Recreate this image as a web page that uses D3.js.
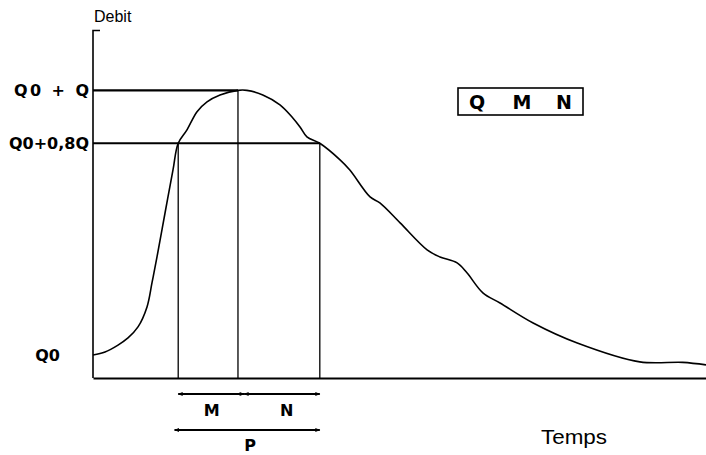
<!DOCTYPE html>
<html>
<head>
<meta charset="utf-8">
<script src="https://cdn.jsdelivr.net/npm/d3@7"></script>
<style>
  html, body { margin: 0; padding: 0; background: #fff; }
  svg { display: block; }
</style>
</head>
<body>
<svg id="chart" width="706" height="455"></svg>
<script>
// Hydrograph: debit over time, with peak level Q0 + Q and the 0.8Q threshold
const Q0 = 1.0;
const Q = 11.5;

// time (arbitrary units) and debit samples of the flood wave
const temps = [0, 1.96, 4.08, 5.71, 7.34, 8.81, 9.62, 10.44, 11.75, 13.05, 13.9,
  15.33, 16.97, 18.6, 20.72, 23.65, 25.1, 27.7, 30.5, 32.6, 33.8, 34.9, 37.0,
  40.3, 41.9, 45.2, 46.8, 50.1, 54.5, 56.6, 59.4, 61.0, 63.6, 66.4, 71.8, 79.0,
  89.2, 96.2, 100];
const debit = [1.0, 1.13, 1.43, 1.74, 2.22, 3.09, 4.13, 5.26, 7.17, 9.04, 10.2,
  10.78, 11.57, 12.0, 12.3, 12.5, 12.5, 12.3, 11.87, 11.3, 10.9, 10.48, 10.2,
  9.48, 9.04, 7.87, 7.61, 6.74, 5.57, 5.26, 5.0, 4.57, 3.7, 3.26, 2.39, 1.52,
  0.70, 0.68, 0.57];

// instants: crossing of Q0 + 0.8Q on the rise, the peak, crossing on the fall
const tMontee = 13.9;
const tPointe = 23.65;
const tDescente = 37.0;

// level labels on the debit axis
const niveaux = [Q0, Q0 + 0.8 * Q, Q0 + Q];
const niveauLabels = ["Q0", "Q0+0,8Q", "Q0 + Q"];
const legendLetters = ["Q", "M", "N"];

const svg = d3.select("#chart");
const x = d3.scaleLinear().domain([0, 100]).range([93, 706]);
const y = d3.scaleLinear().domain([0, 15.1]).range([378, 30.5]);

const bold = "'DejaVu Sans', sans-serif";
const plain = "'Liberation Sans', Arial, sans-serif";

// guide lines: horizontal levels and vertical instants
const levelLine = (v, t) => svg.append("line")
  .attr("x1", x(0)).attr("x2", x(t))
  .attr("y1", y(v)).attr("y2", y(v))
  .attr("stroke", "#000").attr("stroke-width", 2.2);
levelLine(Q0 + Q, tPointe);
levelLine(Q0 + 0.8 * Q, tDescente);

[[tMontee, Q0 + 0.8 * Q], [tPointe, Q0 + Q], [tDescente, Q0 + 0.8 * Q]].forEach(([t, v]) => {
  svg.append("line")
    .attr("x1", x(t)).attr("x2", x(t))
    .attr("y1", y(v)).attr("y2", y(0))
    .attr("stroke", "#000").attr("stroke-width", 1.3);
});

// hydrograph curve
const pts = temps.map((t, i) => [t, debit[i]]);
svg.append("path")
  .datum(pts)
  .attr("fill", "none")
  .attr("stroke", "#000")
  .attr("stroke-width", 1.6)
  .attr("stroke-linejoin", "round")
  .attr("d", d3.line().x(d => x(d[0])).y(d => y(d[1])).curve(d3.curveCatmullRom.alpha(0.5)));

// time axis
const xAxis = svg.append("g")
  .attr("transform", `translate(0,${y(0)})`)
  .call(d3.axisBottom(x).tickValues([]).tickSizeOuter(0));
xAxis.select(".domain").attr("stroke", "#000").attr("stroke-width", 2.2);

// debit axis with level labels
const yAxis = svg.append("g")
  .attr("transform", `translate(${x(0)},0)`)
  .call(d3.axisLeft(y).tickValues(niveaux).tickSize(0).tickSizeOuter(0).tickPadding(4)
    .tickFormat((d, i) => niveauLabels[i]));
yAxis.select(".domain").remove();
yAxis.selectAll(".tick text")
  .attr("font-family", bold)
  .attr("font-weight", "bold")
  .attr("font-size", 16)
  .attr("fill", "#000");
// the base level label sits further out from the axis
yAxis.selectAll(".tick text").filter((d, i) => i === 0)
  .attr("x", -33);
yAxis.selectAll(".tick text").filter((d, i) => i === 2)
  .attr("textLength", 75).attr("lengthAdjust", "spacing");

// axis line with the small bracket at the top
svg.append("path")
  .attr("d", `M${x(0)},${y(0)}V${y(15.1)}H${x(0) + 7}`)
  .attr("fill", "none").attr("stroke", "#000").attr("stroke-width", 1.6);

svg.append("text")
  .attr("x", x(0) + 1).attr("y", 22)
  .attr("font-family", plain).attr("font-size", 16)
  .text("Debit");

svg.append("text")
  .attr("x", 541).attr("y", 444)
  .attr("font-family", plain).attr("font-size", 21)
  .attr("textLength", 66).attr("lengthAdjust", "spacingAndGlyphs")
  .text("Temps");

// duration arrows below the axis
const defs = svg.append("defs");
defs.append("marker")
  .attr("id", "tete")
  .attr("viewBox", "0 0 10 10")
  .attr("refX", 9).attr("refY", 5)
  .attr("markerWidth", 9).attr("markerHeight", 5)
  .attr("markerUnits", "userSpaceOnUse")
  .attr("orient", "auto-start-reverse")
  .append("path").attr("d", "M0,1L10,5L0,9Z").attr("fill", "#000");

const fleche = (t0, t1, yy) => svg.append("line")
  .attr("x1", x(t0)).attr("x2", x(t1))
  .attr("y1", yy).attr("y2", yy)
  .attr("stroke", "#000").attr("stroke-width", 1.8)
  .attr("marker-start", "url(#tete)").attr("marker-end", "url(#tete)");

fleche(tMontee, tPointe + 1, 394);
fleche(tPointe + 1, tDescente, 394);
fleche(tMontee - 0.6, tDescente, 430);

const lettre = (t, yy, s) => svg.append("text")
  .attr("x", x(t)).attr("y", yy)
  .attr("text-anchor", "middle")
  .attr("font-family", bold).attr("font-weight", "bold").attr("font-size", 16)
  .text(s);
lettre((tMontee + tPointe) / 2 + 0.6, 416, "M");
lettre(31.6, 416, "N");
lettre((tMontee + tDescente) / 2 + 0.2, 451, "P");

// boxed legend
const box = svg.append("g");
box.append("rect")
  .attr("x", 458).attr("y", 88).attr("width", 125).attr("height", 27)
  .attr("fill", "none").attr("stroke", "#000").attr("stroke-width", 1.6);
const lx = [477, 522, 564];
box.selectAll("text.leg")
  .data(legendLetters)
  .join("text")
  .attr("class", "leg")
  .attr("x", (d, i) => lx[i]).attr("y", 108.5)
  .attr("text-anchor", "middle")
  .attr("font-family", bold).attr("font-weight", "bold").attr("font-size", 19)
  .text(d => d);
</script>
</body>
</html>
